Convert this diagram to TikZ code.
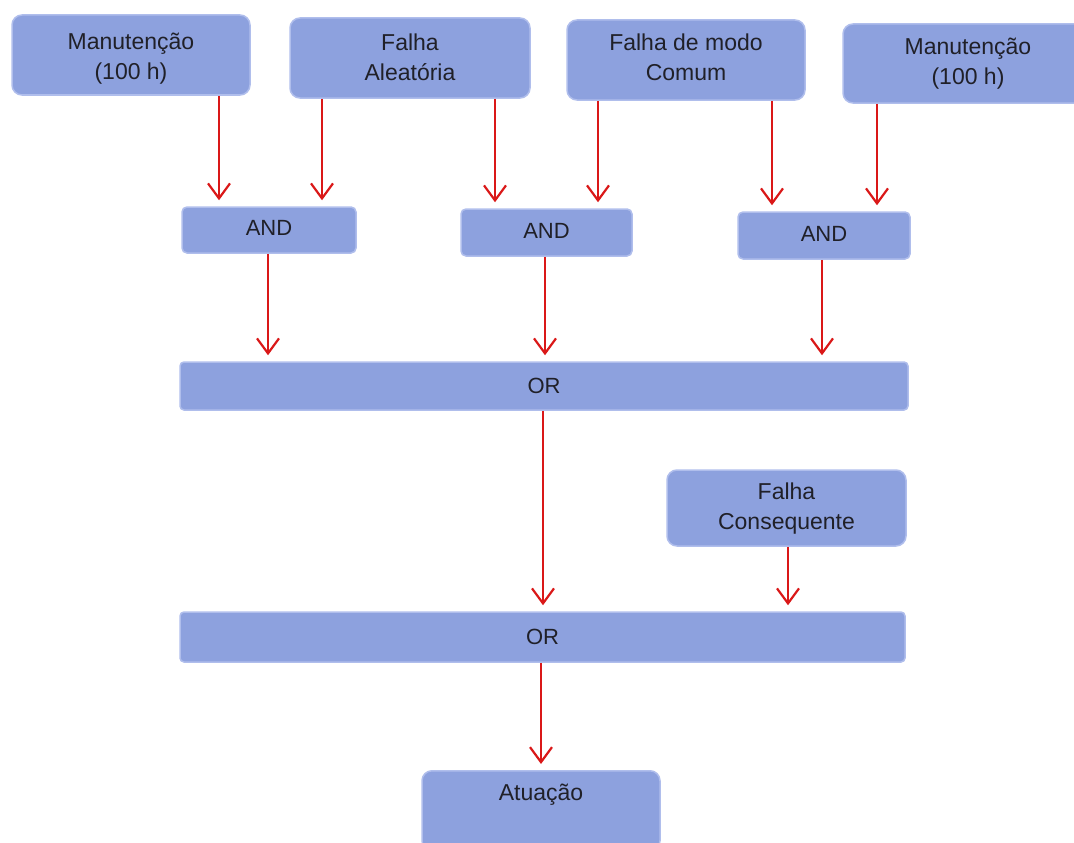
\documentclass[tikz,border=0pt]{standalone}
\usepackage{fontspec}
\setmainfont{Liberation Sans}
\usetikzlibrary{arrows.meta,calc}
\definecolor{boxfill}{RGB}{141,161,222}
\definecolor{boxedge}{RGB}{176,190,236}
\definecolor{txt}{RGB}{32,32,40}
\definecolor{arrowred}{RGB}{218,24,24}
% shift a label vertically while keeping its box size
\newcommand{\nudge}[2]{\raisebox{#1}[\height][\depth]{#2}}
% two centred lines, shifted inside their box
\newcommand{\twolines}[3][0pt]{\nudge{#1}{\begin{tabular}{@{}c@{}}#2\\#3\end{tabular}}}
\tikzset{
  event/.style={fill=boxfill, draw=boxedge, line width=1.5pt, rounded corners=10pt,
    text=txt, align=center, inner sep=0pt,
    font=\fontsize{23}{30}\selectfont},
  gate/.style={event, rounded corners=5pt, font=\fontsize{22}{30}\selectfont},
  bar/.style={gate, rounded corners=4pt},
  arr/.style={draw=arrowred, line width=1.9pt, shorten >=6pt,
    -{Straight Barb[length=15pt,width=22pt,line width=2.2pt]}},
}
\begin{document}
\begin{tikzpicture}[x=1pt,y=-1pt]
  \useasboundingbox (0,0) rectangle (1074,843);
  \begin{scope}
  \clip (0,0) rectangle (1074,843);
  % basic events
  \node[event, minimum width=238pt, minimum height=80pt] (b1) at (131,55) {\twolines[-4pt]{Manutenção}{(100 h)}};
  \node[event, minimum width=240pt, minimum height=80pt] (b2) at (410,58) {\twolines[-2pt]{Falha}{Aleatória}};
  \node[event, minimum width=238pt, minimum height=80pt] (b3) at (686,60) {\twolines{Falha de modo}{Comum}};
  \node[event, minimum width=250pt, minimum height=79pt] (b4) at (968,63.5) {\twolines{Manutenção}{(100 h)}};
  % AND gates
  \node[gate, minimum width=174pt, minimum height=46pt] (a1) at (269,230) {\nudge{2pt}{AND}};
  \node[gate, minimum width=171pt, minimum height=47pt] (a2) at (546.5,232.5) {\nudge{2pt}{AND}};
  \node[gate, minimum width=172pt, minimum height=47pt] (a3) at (824,235.5) {\nudge{2pt}{AND}};
  % OR gates and consequent failure
  \node[bar, minimum width=728pt, minimum height=48pt] (or1) at (544,386) {OR};
  \node[event, minimum width=239pt, minimum height=76pt] (cq) at (786.5,508) {\twolines{Falha}{Consequente}};
  \node[bar, minimum width=725pt, minimum height=50pt] (or2) at (542.5,637) {OR};
  % top event
  \node[event, minimum width=238pt, minimum height=80pt, anchor=north] (at) at (541,770) {};
  \node[text=txt, font=\fontsize{23}{30}\selectfont] (atl) at (541,795) {Atuação};
  % connectors
  \draw[arr] ([xshift=88pt]b1.south) -- ([xshift=88pt]b1.south |- a1.north);
  \draw[arr] ([xshift=-88pt]b2.south) -- ([xshift=-88pt]b2.south |- a1.north);
  \draw[arr] ([xshift=85pt]b2.south) -- ([xshift=85pt]b2.south |- a2.north);
  \draw[arr] ([xshift=-88pt]b3.south) -- ([xshift=-88pt]b3.south |- a2.north);
  \draw[arr] ([xshift=86pt]b3.south) -- ([xshift=86pt]b3.south |- a3.north);
  \draw[arr] ([xshift=-91pt]b4.south) -- ([xshift=-91pt]b4.south |- a3.north);
  \draw[arr] ([xshift=-1pt]a1.south) -- ([xshift=-1pt]a1.south |- or1.north);
  \draw[arr] ([xshift=-1.5pt]a2.south) -- ([xshift=-1.5pt]a2.south |- or1.north);
  \draw[arr] ([xshift=-2pt]a3.south) -- ([xshift=-2pt]a3.south |- or1.north);
  \draw[arr] ([xshift=-1pt]or1.south) -- ([xshift=-1pt]or1.south |- or2.north);
  \draw[arr] ([xshift=1.5pt]cq.south) -- ([xshift=1.5pt]cq.south |- or2.north);
  \draw[arr] ([xshift=-1.5pt]or2.south) -- ([xshift=-1.5pt]or2.south |- at.north);
  \end{scope}
\end{tikzpicture}
\end{document}
